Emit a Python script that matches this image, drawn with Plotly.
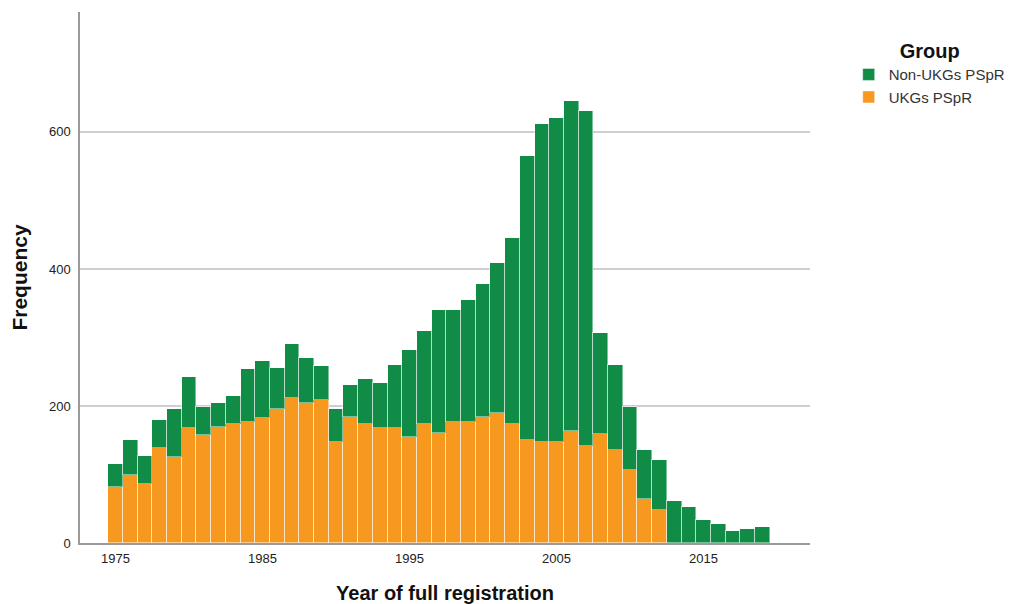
import plotly.graph_objects as go

years = list(range(1975, 2020))
uk_years = list(range(1975, 2013))

uk_counts = [82, 99, 86, 139, 125, 168, 158, 170, 174, 176,
             182, 195, 211, 204, 208, 147, 184, 174, 168, 168,
             154, 173, 160, 176, 176, 184, 190, 173, 150, 147,
             148, 163, 141, 159, 136, 106, 64, 48]

non_uk_counts = [34, 52, 41, 40, 71, 75, 40, 34, 40, 78,
                 83, 60, 80, 66, 51, 49, 46, 66, 66, 92,
                 127, 137, 180, 164, 178, 194, 218, 272, 415, 464,
                 472, 482, 490, 147, 124, 92, 72, 73, 61, 53,
                 33, 28, 17, 20, 23]

x_ticks = [1975, 1985, 1995, 2005, 2015]
y_ticks = [0, 200, 400, 600]

green = "#118c46"
orange = "#f7991f"
font = "Liberation Sans, Arial, sans-serif"

fig = go.Figure()
fig.add_trace(go.Bar(
    x=uk_years, y=uk_counts, name="UKGs PSpR",
    marker=dict(color=orange, line=dict(color="rgba(255,255,255,0.5)", width=1)),
))
fig.add_trace(go.Bar(
    x=years, y=non_uk_counts, name="Non-UKGs PSpR",
    marker=dict(color=green, line=dict(color="rgba(255,255,255,0.45)", width=1)),
))

# the page body adds an 8px margin, so the figure is a bit smaller
fig.update_layout(
    width=1010, height=596,
    barmode="stack", bargap=0,
    plot_bgcolor="white", paper_bgcolor="white",
    margin=dict(l=72, r=208, t=4, b=61, autoexpand=False),
    font=dict(family=font, size=13, color="#222222"),
    legend=dict(
        title=dict(text="<b>Group</b>", side="top center",
                   font=dict(size=20, color="#111111")),
        traceorder="reversed",
        x=1.053, y=0.962, xanchor="left", yanchor="top",
        font=dict(size=15, color="#333333"),
        itemwidth=30, tracegroupgap=0,
    ),
)

fig.update_xaxes(
    range=[1972.58, 2022.24],
    tickvals=x_ticks,
    showgrid=False, automargin=False,
    showline=True, linecolor="#9a9a9a", linewidth=1.5,
    ticks="", ticklabelstandoff=3,
    tickfont=dict(size=13, color="#222222"),
    title=dict(text="<b>Year of full registration</b>",
               font=dict(size=20, color="#111111"), standoff=29),
)
fig.update_yaxes(
    range=[0, 775],
    tickvals=y_ticks,
    showgrid=True, gridcolor="#cfcfcf", gridwidth=1.5,
    zeroline=False, automargin=False,
    showline=True, linecolor="#9a9a9a", linewidth=1.5,
    ticks="", ticklabelstandoff=5,
    tickfont=dict(size=13, color="#222222"),
    title=dict(text="<b>Frequency</b>",
               font=dict(size=21, color="#111111"), standoff=16),
)

fig.write_html("out.html")
